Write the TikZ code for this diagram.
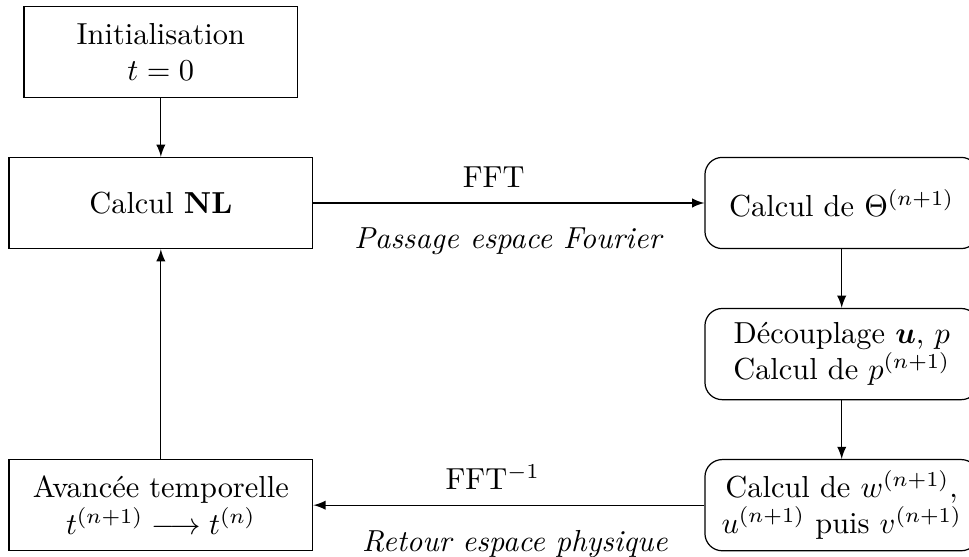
\documentclass[tikz,border=0pt]{standalone}
\usepackage{amsmath}
\usetikzlibrary{matrix}

\begin{document}
\begin{tikzpicture}[>=latex,
        chart/.style={matrix of nodes,nodes={draw, anchor=center, align=flush center, text width=83.3pt, minimum height=30pt}, column sep=128.6pt, row sep=19.3pt},
        widebox/.style={text width=93.3pt},
        roundbox/.style={rounded corners=2mm}]
        \matrix[chart] (chart) {
        {Initialisation\\ $t=0$} & \\
        |[widebox]| Calcul $\mathbf{NL}$ & |[roundbox]| Calcul de $\Theta^{(n+1)}$ \\
        & |[roundbox]| {Découplage $\boldsymbol{u}$, $p$\\ Calcul de $p^{(n+1)}$} \\
        |[widebox]| {Avancée temporelle\\ $t^{(n+1)} \longrightarrow t^{(n)}$} & |[roundbox]| {Calcul de $w^{(n+1)}$,\\ $u^{(n+1)}$ puis $v^{(n+1)}$} \\};
        \coordinate (corner) at (chart-2-1.west |- chart-1-1.north);
        \pgfresetboundingbox
        \useasboundingbox ([shift={(-2.73pt,1.87pt)}]corner) rectangle ++(318.75pt,-183.2pt);
        \draw[->] (chart-1-1)--(chart-2-1);
        \draw[->] (chart-2-1)--node [above=1.6pt, xshift=-5pt] (fft) {FFT} node [below=4.7pt] (fourier) {\textit{Passage espace Fourier}} (chart-2-2);
        \draw[->] (chart-2-2)--(chart-3-2);
        \draw[->] (chart-3-2)--(chart-4-2);
        \draw[->] (chart-4-2)--node [above=1.6pt, xshift=-5.3pt] (ifft) {FFT$^{-1}$} node [below=4.7pt, xshift=2pt] (physique) {\textit{Retour espace physique}} (chart-4-1);
        \draw[->] (chart-4-1)--(chart-2-1);
    \end{tikzpicture}
\end{document}
